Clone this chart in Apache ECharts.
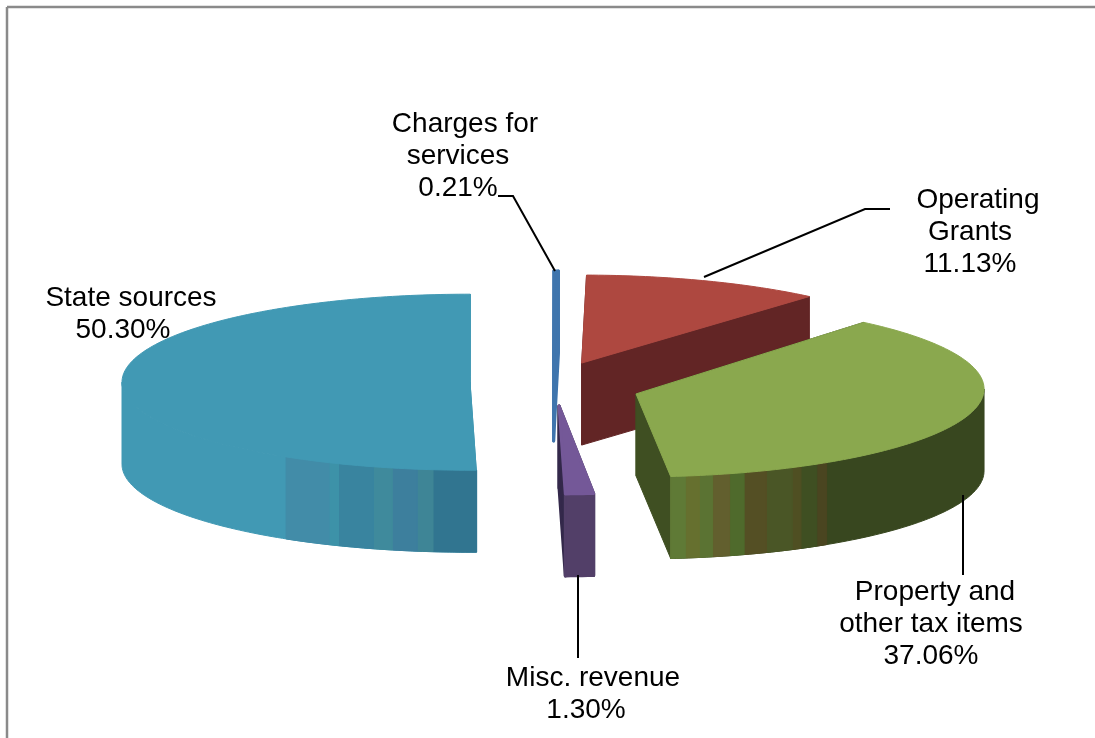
<!DOCTYPE html>
<html>
<head>
<meta charset="utf-8">
<title>Revenue sources</title>
<script src="https://cdn.jsdelivr.net/npm/echarts@6/dist/echarts.min.js"></script>
<style>
  html, body { margin: 0; padding: 0; background: #fff; }
  #chart { width: 1095px; height: 738px; }
</style>
</head>
<body>
<div id="chart"></div>
<script>
// data, clockwise from 12 o'clock
var categories = ['Operating\nGrants', 'Property and\nother tax items', 'Misc. revenue', 'State sources', 'Charges for\nservices'];
var values = [11.13, 37.06, 1.30, 50.30, 0.21];

// colours per slice: top, rim wall, cut face
var topColors = ['#ae4840', '#8aa84e', '#745898', '#4199b4', '#3f75ad'];
var wallColors = ['#622525', '#38471f', '#523f68', '#4199b4', '#3f75ad'];
var faceColors = ['#622525', '#3f4f22', '#33284a', '#4199b4', '#3f75ad'];
// which slice is painted when (back to front)
var paintRank = [1, 4, 3, 2, 0];
// gently shaded strips on the front of the rim: [from angle, colour]
var wallBands = {
  1: [[146.8, '#4a4520'], [148.7, '#3f4f22'], [151.7, '#4f4f22'], [153.3, '#4a5626'], [158, '#544f24'],
      [161.9, '#4f6a2c'], [164.4, '#625f2e'], [167.3, '#5b7333'], [169.5, '#66702f'], [171.8, '#5f7a36']],
  3: [[178.9, '#317590'], [186.1, '#3e8596'], [188.7, '#3d7f9d'], [192.9, '#3f8a9c'], [196.1, '#39849f'],
      [202.2, '#3d92a8'], [203.9, '#428ca8']]
};
var bandEnds = { 1: 174.3, 3: 211.9 };

// fake 3d layout
var cx0 = 555, cy0 = 382, rx = 348, ry = 88, depth = 82, tilt = 0.27, firstAngle = 0.8;
var explode = [75, 85, 85, 85, 85];
// small hand nudges of each slice and of its tip, the original is not a true ellipse
var nudge = [[0, 0], [0, 0], [-1, 1], [0, 0], [-2, 0]];
var tipDrop = [0, 5, 0, 0, 0];
var strokeWidth = [1, 1, 3, 1, 3];

// cumulative angles
var angles = [], sum = firstAngle;
values.forEach(function (v) {
  var span = echarts.number.linearMap(v, [0, 100], [0, 360]);
  angles.push([sum, sum + span]);
  sum += span;
});

function rad(a) { return a * Math.PI / 180; }

function rimPoint(c, a, dy) {
  return [c[0] + rx * Math.sin(rad(a)), c[1] - ry * Math.cos(rad(a)) + (dy || 0)];
}

function arc(c, a0, a1, dy) {
  var pts = [], n = Math.max(2, Math.ceil(Math.abs(a1 - a0)));
  for (var i = 0; i <= n; i++) pts.push(rimPoint(c, a0 + (a1 - a0) * i / n, dy));
  return pts;
}

function poly(points, color, z2, width) {
  return {
    type: 'polygon',
    z2: z2,
    shape: { points: points },
    style: { fill: color, stroke: color, lineWidth: width || 1, lineJoin: 'round' }
  };
}

function wallPiece(c, a0, a1, color, z2, width) {
  return poly(arc(c, a0, a1, 0).concat(arc(c, a1, a0, depth)), color, z2, width);
}

function renderSlice(params, api) {
  var i = params.dataIndex;
  var a0 = angles[i][0], a1 = angles[i][1], mid = (a0 + a1) / 2;
  var c = [
    cx0 + explode[i] * Math.sin(rad(mid)) + nudge[i][0],
    cy0 - explode[i] * tilt * Math.cos(rad(mid)) + nudge[i][1]
  ];
  var tip = [c[0], c[1] + tipDrop[i]];
  var base = paintRank[i] * 100;
  var kids = [];

  // the two cut faces
  [a0, a1].forEach(function (a, k) {
    var p = rimPoint(c, a, 0), q = rimPoint(c, a, depth);
    kids.push(poly([tip, p, q, [tip[0], tip[1] + depth]], faceColors[i], base + k, strokeWidth[i]));
  });

  // rim wall, front half only
  var from = Math.max(a0, 90), to = Math.min(a1, 270);
  if (to > from) {
    kids.push(wallPiece(c, from, to, wallColors[i], base + 3, strokeWidth[i]));
    var bands = wallBands[i];
    if (bands) {
      bands.forEach(function (b, k) {
        var end = k + 1 < bands.length ? bands[k + 1][0] : bandEnds[i];
        kids.push(wallPiece(c, b[0], end, b[1], base + 4 + k));
      });
    }
  }

  // top of the slice
  kids.push(poly([tip].concat(arc(c, a0, a1, 0)), topColors[i], base + 50, strokeWidth[i]));
  return { type: 'group', children: kids };
}

// label centres, per-line shift and leader lines
var labelPos = [[978, 186], [935, 578], [593, 664], [131, 284], [465, 110]];
var lineShift = [[0, -8, -8], [0, -4, -4], [0, -7], [0, -8], [0, -7, -7]];
var lineGap = 32;
var leaders = [
  [[890, 209], [865, 209], [704, 277]],
  [[963, 495], [963, 575]],
  [[578, 575], [578, 658]],
  [],
  [[498, 196], [513, 196], [555, 271]]
];

var graphics = [
  { type: 'line', shape: { x1: 7, y1: 7, x2: 1095, y2: 7 }, style: { stroke: '#8a8a8a', lineWidth: 2.5 }, z: 1 },
  { type: 'line', shape: { x1: 7, y1: 7, x2: 7, y2: 738 }, style: { stroke: '#8a8a8a', lineWidth: 2.5 }, z: 1 }
];
categories.forEach(function (name, i) {
  if (leaders[i].length) {
    graphics.push({
      type: 'polyline',
      z: 10,
      shape: { points: leaders[i] },
      style: { stroke: '#000', lineWidth: 2, fill: null }
    });
  }
  var lines = name.split('\n').concat(values[i].toFixed(2) + '%');
  lines.forEach(function (line, k) {
    graphics.push({
      type: 'text',
      z: 11,
      x: labelPos[i][0] + lineShift[i][k],
      y: labelPos[i][1] + k * lineGap,
      style: {
        text: line,
        fill: '#000',
        font: '28px "Liberation Sans", Arial, sans-serif',
        align: 'center',
        verticalAlign: 'top'
      }
    });
  });
});

var myChart = echarts.init(document.getElementById('chart'));
var option = {
  animation: false,
  backgroundColor: '#fff',
  graphic: graphics,
  series: [{
    type: 'custom',
    coordinateSystem: 'none',
    silent: true,
    renderItem: renderSlice,
    data: values
  }]
};
myChart.setOption(option);
</script>
</body>
</html>
